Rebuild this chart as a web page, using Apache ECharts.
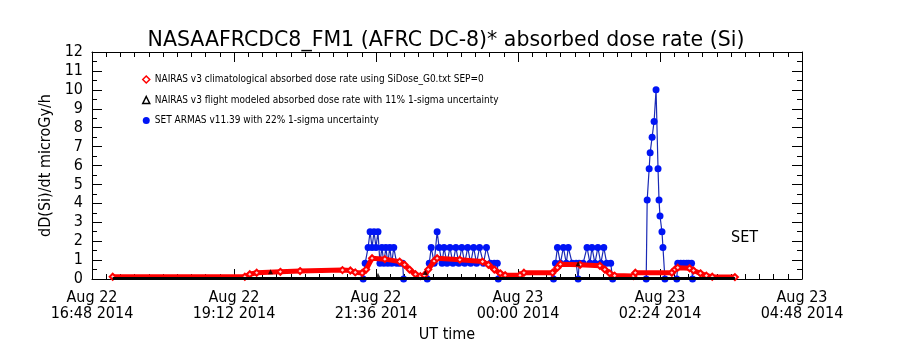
<!DOCTYPE html>
<html>
<head>
<meta charset="UTF-8">
<title>absorbed dose rate</title>
<script src="https://cdn.jsdelivr.net/npm/echarts@6/dist/echarts.min.js"></script>
<style>
  body { margin: 0; background: #fff; }
  #chart { width: 900px; height: 350px; }
</style>
</head>
<body>
<div id="chart"></div>
<script>
// time = minutes after Aug 22 16:48 UT
var xTickLabels = ['Aug 22\n16:48 2014', 'Aug 22\n19:12 2014', 'Aug 22\n21:36 2014',
                   'Aug 23\n00:00 2014', 'Aug 23\n02:24 2014', 'Aug 23\n04:48 2014'];

var seriesNames = [
    'NAIRAS v3 climatological absorbed dose rate using SiDose_G0.txt SEP=0',
    'NAIRAS v3 flight modeled absorbed dose rate with 11% 1-sigma uncertainty',
    'SET ARMAS v11.39 with 22% 1-sigma uncertainty'
];

// NAIRAS climatological (red diamonds)
var climT = [21, 155, 160, 167, 191, 211, 254, 262, 267, 274, 278, 284, 297, 312, 317, 322, 328, 333, 337,
             341, 347, 350, 373, 396, 402, 408, 414, 419, 434, 438, 467, 472, 475, 495, 515, 520, 525, 530,
             549, 551, 588, 591, 594, 606, 610, 617, 623, 629, 652];
var climV = [0.12, 0.12, 0.25, 0.33, 0.38, 0.42, 0.47, 0.45, 0.35, 0.32, 0.5, 1.1, 1.05, 0.92, 0.75, 0.5, 0.25, 0.15, 0.2,
             0.5, 0.95, 1.1, 1.02, 0.92, 0.75, 0.5, 0.3, 0.2, 0.2, 0.33, 0.33, 0.6, 0.78, 0.75, 0.7, 0.5, 0.3, 0.18,
             0.16, 0.33, 0.33, 0.5, 0.6, 0.57, 0.45, 0.3, 0.18, 0.12, 0.1];

// NAIRAS flight modeled (black triangles)
var flightT = [21, 652];
var flightV = [0.03, 0.03];
var flightPtT = [181, 290, 338, 493];
var flightPtV = [0.38, 0.2, 0.35, 0.8];

// SET ARMAS (blue dots), null separates flight legs
var armasT = [275, 277, 280, 282, 284, 286, 288, 290, 292, 294, 296, 298, 300, 302, 304, 306, 309, 312, 315, 316, null,
              340, 342, 344, 347, 350, 352, 355, 357, 360, 363, 366, 369, 372, 375, 378, 381, 384, 387, 390, 393, 397,
              400, 404, 408, 411, 412, null,
              468, 470, 472, 475, 478, 481, 483, 487, 491, 493, 494, 498, 502, 505, 507, 510, 513, 516, 519, 522, 526, 528, null,
              562, 563, 565, 566, 568, 570, 572, 574, 575, 576, 578, 579, 581, null,
              593, 594, 597, 600, 603, 605, 608, 609];
var armasV = [0, 0.83, 1.67, 2.5, 1.67, 2.5, 1.67, 2.5, 0.83, 1.67, 0.83, 1.67, 0.83, 1.67, 0.83, 1.67, 0.83, 0.83, 0.83, 0, null,
              0, 0.83, 1.67, 0.83, 2.5, 1.67, 0.83, 1.67, 0.83, 1.67, 0.83, 1.67, 0.83, 1.67, 0.83, 1.67, 0.83, 1.67, 0.83, 1.67, 0.83,
              1.67, 0.83, 0.83, 0.83, 0, null,
              0, 0.83, 1.67, 0.83, 1.67, 0.83, 1.67, 0.83, 0.83, 0, 0.83, 0.83, 1.67, 0.83, 1.67, 0.83, 1.67, 0.83, 1.67, 0.83, 0.83, 0, null,
              0, 4.17, 5.83, 6.67, 7.5, 8.33, 10, 5.83, 4.17, 3.33, 2.5, 1.67, 0, null,
              0, 0.83, 0.83, 0.83, 0.83, 0.83, 0.83, 0];

function pairs(t, v) {
    var out = [];
    for (var i = 0; i < t.length; i++) {
        out.push(t[i] === null ? [null, null] : [t[i], v[i]]);
    }
    return out;
}

var narrow = "'DejaVu Sans Condensed', 'Liberation Sans Narrow', sans-serif";

var axisLine = { show: true, onZero: false, lineStyle: { color: '#000', width: 1 } };
var axisTick = { show: true, inside: true, length: 10, lineStyle: { color: '#000' } };

function minor(n) {
    return { show: true, splitNumber: n, length: 5, lineStyle: { color: '#000' } };
}

var myChart = echarts.init(document.getElementById('chart'));

option = {
    backgroundColor: '#fff',
    animation: false,
    title: {
        text: 'NASAAFRCDC8_FM1 (AFRC DC-8)* absorbed dose rate (Si)',
        left: 441, top: 25, textAlign: 'center',
        textStyle: { fontFamily: 'DejaVu Sans', fontSize: 20.5, fontWeight: 'normal', color: '#000' }
    },
    legend: {
        orient: 'vertical',
        left: 137, top: 68,
        itemWidth: 7, itemHeight: 7, itemGap: 7.5,
        selectedMode: false,
        textStyle: { fontFamily: narrow, fontSize: 10, color: '#000', lineHeight: 13 },
        data: [
            { name: seriesNames[0], icon: 'diamond', itemStyle: { color: '#fff', borderColor: '#ff0000', borderWidth: 1.5 } },
            { name: seriesNames[1], icon: 'triangle', itemStyle: { color: '#fff', borderColor: '#000', borderWidth: 1.5 } },
            { name: seriesNames[2], icon: 'circle', itemStyle: { color: '#0014f5' } }
        ]
    },
    grid: { left: 92, right: 98, top: 52, bottom: 71 },
    xAxis: [
        {
            type: 'value', min: 0, max: 720, interval: 144,
            name: 'UT time', nameLocation: 'middle', nameGap: 44,
            nameTextStyle: { fontFamily: narrow, fontSize: 16, color: '#000' },
            axisLine: axisLine, axisTick: axisTick, minorTick: minor(10), splitLine: { show: false },
            axisLabel: {
                margin: 11, fontFamily: narrow, fontSize: 16, color: '#000', lineHeight: 16,
                formatter: function (v) { return xTickLabels[Math.round(v / 144)]; }
            }
        },
        {
            type: 'value', min: 0, max: 720, interval: 144, position: 'top',
            axisLine: axisLine, axisTick: axisTick, minorTick: minor(10), splitLine: { show: false },
            axisLabel: { show: false }
        }
    ],
    yAxis: [
        {
            type: 'value', min: 0, max: 12, interval: 1,
            name: 'dD(Si)/dt microGy/h', nameLocation: 'middle', nameGap: 38,
            nameTextStyle: { fontFamily: narrow, fontSize: 16, color: '#000' },
            axisLine: axisLine, axisTick: axisTick, minorTick: minor(2), splitLine: { show: false },
            axisLabel: { margin: 9, fontFamily: narrow, fontSize: 16, color: '#000' }
        },
        {
            type: 'value', min: 0, max: 12, interval: 1, position: 'right',
            axisLine: axisLine, axisTick: axisTick, minorTick: minor(2), splitLine: { show: false },
            axisLabel: { show: false }
        }
    ],
    graphic: [{
        type: 'text', left: 731, top: 230,
        style: { text: 'SET', font: '16px ' + narrow, fill: '#000' }
    }],
    series: [
        {
            name: seriesNames[2], type: 'line', data: pairs(armasT, armasV),
            connectNulls: false,
            lineStyle: { color: '#1a2ab5', width: 1.2 },
            symbol: 'circle', symbolSize: 7, showAllSymbol: true,
            itemStyle: { color: '#0014f5', borderWidth: 0 },
            z: 2
        },
        {
            name: seriesNames[0], type: 'line', data: pairs(climT, climV),
            lineStyle: { color: '#ff0000', width: 5 },
            symbol: 'diamond', symbolSize: 6, showAllSymbol: true,
            itemStyle: { color: '#ffd0d0', borderColor: '#ff0000', borderWidth: 2 },
            z: 3
        },
        {
            name: seriesNames[1], type: 'line', data: pairs(flightT, flightV),
            lineStyle: { color: '#000', width: 3 },
            symbol: 'none',
            itemStyle: { color: '#000' },
            z: 4
        },
        {
            name: seriesNames[1], type: 'scatter', data: pairs(flightPtT, flightPtV),
            symbol: 'triangle', symbolSize: 5,
            itemStyle: { color: '#000' },
            z: 5
        }
    ]
};
myChart.setOption(option);
</script>
</body>
</html>
